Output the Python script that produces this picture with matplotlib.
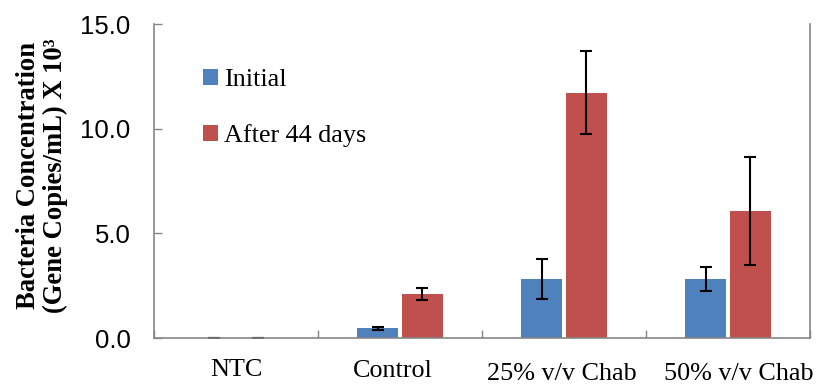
import numpy as np
import matplotlib
matplotlib.use("Agg")
import matplotlib.pyplot as plt
from matplotlib.transforms import ScaledTranslation

# values (gene copies/mL x 10^3)
categories = ["NTC", "Control", "25% v/v Chab", "50% v/v Chab"]
initial = [0.0, 0.47, 2.82, 2.80]
initial_err = [0.0, 0.07, 0.97, 0.57]
after_44 = [0.0, 2.10, 11.72, 6.07]
after_44_err = [0.0, 0.28, 1.99, 2.58]
series_names = ["Initial", "After 44 days"]

blue = "#4F81BD"
red = "#C0504D"
axis_gray = "#868686"
serif = "Liberation Serif"
sans = "Liberation Sans"

fig = plt.figure(figsize=(8.18, 3.84), dpi=100)
ax = fig.add_axes([154 / 818, 1 - 338 / 384, 656 / 818, 314 / 384])

x = np.arange(len(categories))
w = 0.246
off = 0.137
err_kw = dict(ecolor="black", elinewidth=1.5, capsize=4.3, capthick=1.5)
ax.bar(x - off, initial, w, yerr=initial_err, color=blue, label=series_names[0],
       error_kw=err_kw)
ax.bar(x + off, after_44, w, yerr=after_44_err, color=red, label=series_names[1],
       error_kw=err_kw)

ax.set_xlim(-0.5, len(categories) - 0.5)
ax.set_ylim(0, 15)

# y axis
ax.set_yticks([0, 5, 10, 15])
ax.set_yticklabels(["0.0", "5.0", "10.0", "15.0"], fontfamily=sans, fontsize=18.5)
ax.tick_params(axis="y", direction="in", length=6, width=1, color=axis_gray, pad=17)

# x axis: boundary ticks, labels at category centres
ax.set_xticks(np.arange(len(categories) + 1) - 0.5)
ax.set_xticklabels([])
ax.tick_params(axis="x", which="major", direction="in", length=6, width=1, color=axis_gray)
ax.set_xticks(x, minor=True)
ax.set_xticklabels(categories, minor=True, fontfamily=serif, fontsize=18.8)
ax.tick_params(axis="x", which="minor", length=0, pad=15)
# the reference labels sit a little off-centre (pixels: dx, dy)
nudges = [(0, 0), (-7, -1), (-2, -4), (11, -4)]
for lab, (dx, dy) in zip(ax.get_xticklabels(minor=True), nudges):
    lab.set_transform(lab.get_transform() + ScaledTranslation(dx / 100, dy / 100, fig.dpi_scale_trans))

for s in ["left", "bottom", "right"]:
    ax.spines[s].set_color(axis_gray)
    ax.spines[s].set_linewidth(1.2)
ax.spines["top"].set_visible(False)

ax.set_ylabel("Bacteria Concentration\n(Gene Copies/mL) X 10³", fontfamily=serif,
              fontweight="bold", fontsize=19.2, linespacing=1.08)
ax.yaxis.set_label_coords(-0.131, (338 - 175.5) / 314)

ax.legend(loc="upper left", bbox_to_anchor=(0.0747, 0.857), frameon=False,
          borderpad=0, borderaxespad=0, handlelength=0.56, handleheight=0.56,
          handletextpad=0.25, labelspacing=1.26,
          prop={"family": serif, "size": 18.8})

fig.savefig("out.png", dpi=100)
